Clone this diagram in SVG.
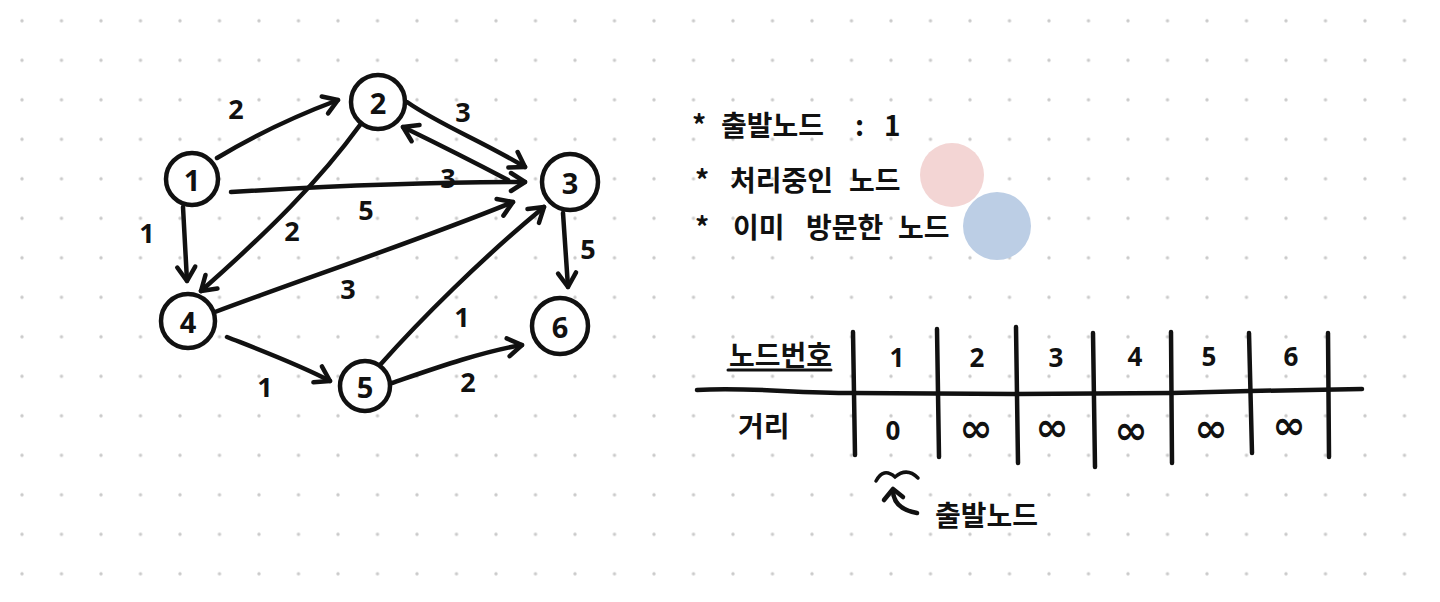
<svg xmlns="http://www.w3.org/2000/svg" width="1440" height="602" viewBox="0 0 1440 602">
<defs>
<pattern id="dots" patternUnits="userSpaceOnUse" x="2.25" y="1.05" width="39.5" height="39.5">
<circle cx="19.75" cy="19.75" r="1.7" fill="#cacaca"/>
</pattern>
<marker id="arr" viewBox="0 0 20 20" refX="16" refY="10" markerWidth="20" markerHeight="20" markerUnits="userSpaceOnUse" orient="auto" overflow="visible">
<path d="M2,1 L16,10 L2,19" fill="none" stroke="#111" stroke-width="4.5" stroke-linecap="round" stroke-linejoin="round"/>
</marker>
<style>
.ln{fill:none;stroke:#111;stroke-width:4.5;stroke-linecap:round;stroke-linejoin:round}
.nd{fill:#fff;stroke:#111;stroke-width:4.5}
.num{font-family:"Noto Sans","DejaVu Sans",sans-serif;font-weight:700;font-size:29px;fill:#111;text-anchor:middle;dominant-baseline:central}
.lbl{font-family:"Noto Sans","DejaVu Sans",sans-serif;font-weight:700;font-size:27px;fill:#111;text-anchor:middle;dominant-baseline:central}
.kr{font-family:"Noto Sans CJK KR","Noto Sans",sans-serif;font-weight:700;font-size:28px;fill:#111}
.cell{font-family:"Noto Sans","DejaVu Sans",sans-serif;font-weight:700;font-size:26px;fill:#111;text-anchor:middle;dominant-baseline:central}
.inf{font-family:"DejaVu Sans",sans-serif;font-weight:700;font-size:40px;fill:#111;text-anchor:middle;dominant-baseline:central}
</style>
</defs>
<rect width="1440" height="602" fill="#fff"/>
<rect width="1440" height="602" fill="url(#dots)"/>

<g id="connectors">
<path class="ln" d="M217,158 C250,138 290,118 338,100" marker-end="url(#arr)"/>
<path class="ln" d="M231,192 C330,186 440,182 525,182" marker-end="url(#arr)"/>
<path class="ln" d="M508,180 C470,160 440,145 403,127" marker-end="url(#arr)"/>
<path class="ln" d="M407,102 C440,125 480,140 525,167" marker-end="url(#arr)"/>
<path class="ln" d="M183,207 L187,281" marker-end="url(#arr)"/>
<path class="ln" d="M360,125 C320,180 270,230 201,291" marker-end="url(#arr)"/>
<path class="ln" d="M215,312 C300,280 420,240 513,202" marker-end="url(#arr)"/>
<path class="ln" d="M227,337 C260,350 300,365 330,381" marker-end="url(#arr)"/>
<path class="ln" d="M380,365 C420,320 480,260 544,207" marker-end="url(#arr)"/>
<path class="ln" d="M392,383 C430,370 480,352 522,345" marker-end="url(#arr)"/>
<path class="ln" d="M563,213 L568,287" marker-end="url(#arr)"/>
<text class="lbl" x="236" y="108">2</text>
<text class="lbl" x="366" y="209">5</text>
<text class="lbl" x="448" y="177">3</text>
<text class="lbl" x="463" y="111">3</text>
<text class="lbl" x="147" y="232">1</text>
<text class="lbl" x="292" y="230">2</text>
<text class="lbl" x="348" y="288">3</text>
<text class="lbl" x="265" y="386">1</text>
<text class="lbl" x="462" y="316">1</text>
<text class="lbl" x="468" y="381">2</text>
<text class="lbl" x="588" y="248">5</text>
</g>

<g id="node1"><circle class="nd" cx="192" cy="179" r="26"/><text class="num" x="192" y="179">1</text></g>
<g id="node2"><circle class="nd" cx="378" cy="102" r="27"/><text class="num" x="378" y="102">2</text></g>
<g id="node3"><circle class="nd" cx="570" cy="182" r="28"/><text class="num" x="570" y="182">3</text></g>
<g id="node4"><circle class="nd" cx="188" cy="321" r="27"/><text class="num" x="188" y="321">4</text></g>
<g id="node5"><circle class="nd" cx="365" cy="386" r="25"/><text class="num" x="365" y="386">5</text></g>
<g id="node6"><circle class="nd" cx="560" cy="326" r="28"/><text class="num" x="560" y="326">6</text></g>

<g id="legend">
<circle cx="952" cy="175" r="32" fill="#f3d5d4"/>
<circle cx="997" cy="226" r="34" fill="#bccee5"/>
<text class="kr" y="136"><tspan x="692">*</tspan><tspan x="721">출발노드</tspan><tspan x="855">:</tspan><tspan x="884">1</tspan></text>
<text class="kr" y="191"><tspan x="695">*</tspan><tspan x="730">처리중인</tspan><tspan x="849">노드</tspan></text>
<text class="kr" y="238"><tspan x="695">*</tspan><tspan x="733">이미</tspan><tspan x="806">방문한</tspan><tspan x="898">노드</tspan></text>
</g>

<g id="table">
<path class="ln" d="M697,390 C750,387 790,393 853,393 L1015,394 L1172,393 L1250,391 L1362,389"/>
<path class="ln" d="M853,332 L855,455"/>
<path class="ln" d="M937,329 L939,457"/>
<path class="ln" d="M1016,327 L1018,463"/>
<path class="ln" d="M1093,333 L1095,467"/>
<path class="ln" d="M1171,332 L1172,463"/>
<path class="ln" d="M1249,333 L1252,453"/>
<path class="ln" d="M1328,333 L1329,457"/>
<path d="M728,370 L831,370" fill="none" stroke="#111" stroke-width="3" stroke-linecap="round"/>
<text class="kr" x="729" y="366" font-size="26">노드번호</text>
<text class="kr" x="738" y="437" font-size="27">거리</text>
<text class="cell" x="897" y="357">1</text>
<text class="cell" x="977" y="357">2</text>
<text class="cell" x="1056" y="357">3</text>
<text class="cell" x="1135" y="356">4</text>
<text class="cell" x="1209" y="356">5</text>
<text class="cell" x="1291" y="356">6</text>
<text class="cell" x="893" y="430">0</text>
<text class="inf" x="976" y="428">∞</text>
<text class="inf" x="1052" y="427">∞</text>
<text class="inf" x="1131" y="430">∞</text>
<text class="inf" x="1211" y="428">∞</text>
<text class="inf" x="1289" y="425">∞</text>
</g>

<g id="start-note">
<path d="M876,481 C881,472 887,470 895,477 C902,471 910,470 918,478" fill="none" stroke="#111" stroke-width="3.5" stroke-linecap="round"/>
<path class="ln" d="M917,513 C900,510 893,502 893,490"/>
<path class="ln" d="M884,500 L893,489 L903,497"/>
<text class="kr" x="935" y="526" font-size="29">출발노드</text>
</g>
</svg>
